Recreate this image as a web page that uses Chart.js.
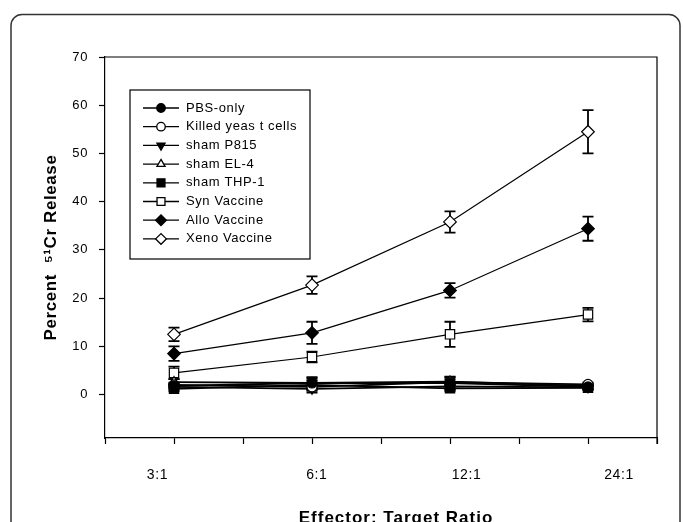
<!DOCTYPE html>
<html>
<head>
<meta charset="utf-8">
<script src="https://cdn.jsdelivr.net/npm/chart.js@4.4.1/dist/chart.umd.min.js"></script>
<style>
  html, body { margin: 0; padding: 0; background: #fff; overflow: hidden; }
  #wrap { width: 683px; height: 540px; }
</style>
</head>
<body>
<div id="wrap"><canvas id="myChart" width="683" height="540"></canvas></div>
<script>
// E:T ratios, where the points sit on the x scale, and where SigmaPlot put the labels
const ratioLabels = ['3:1', '6:1', '12:1', '24:1'];
const pointX = [1, 3, 5, 7];
const labelX = [0.76, 3.07, 5.24, 7.45];
const yTicks = [0, 10, 20, 30, 40, 50, 60, 70];

const seriesNames = ['PBS-only', 'Killed yeas t cells', 'sham P815', 'sham EL-4', 'sham THP-1', 'Syn Vaccine', 'Allo Vaccine', 'Xeno Vaccine'];

const pbsOnly = [1.8, 2.4, 2.4, 1.6];
const pbsOnlyErr = [0.5, 1.2, 1.2, 0.5];
const killedYeast = [2.0, 1.6, 2.6, 2.1];
const killedYeastErr = [0.5, 0.8, 0.6, 0.4];
const shamP815 = [1.6, 1.2, 1.7, 1.5];
const shamP815Err = [0.4, 0.8, 0.6, 0.4];
const shamEL4 = [2.6, 2.4, 2.7, 1.8];
const shamEL4Err = [0.6, 1.0, 1.0, 0.4];
const shamTHP1 = [1.2, 2.0, 1.3, 1.4];
const shamTHP1Err = [0.4, 1.0, 0.5, 0.4];
const synVaccine = [4.5, 7.8, 12.5, 16.6];
const synVaccineErr = [1.3, 1.1, 2.6, 1.4];
const alloVaccine = [8.5, 12.8, 21.6, 34.4];
const alloVaccineErr = [1.5, 2.3, 1.5, 2.5];
const xenoVaccine = [12.5, 22.7, 35.8, 54.5];
const xenoVaccineErr = [1.4, 1.8, 2.2, 4.5];

const FONT = '"Liberation Sans", Arial, sans-serif';

function makeSet(i, vals, errs, style, filled, rotation, radius, width) {
  return {
    label: seriesNames[i],
    data: vals.map((v, j) => ({x: pointX[j], y: v})),
    errors: errs,
    borderColor: '#000',
    borderWidth: width,
    backgroundColor: filled ? '#000' : '#fff',
    pointStyle: style,
    pointRotation: rotation,
    pointRadius: radius,
    pointBorderWidth: 1.2,
    pointBorderColor: '#000',
    pointBackgroundColor: filled ? '#000' : '#fff',
    tension: 0
  };
}

const datasets = [
  makeSet(0, pbsOnly, pbsOnlyErr, 'circle', true, 0, 5, 1.8),
  makeSet(1, killedYeast, killedYeastErr, 'circle', false, 0, 5, 1.8),
  makeSet(2, shamP815, shamP815Err, 'triangle', true, 180, 5.5, 1.8),
  makeSet(3, shamEL4, shamEL4Err, 'triangle', false, 0, 5.5, 1.8),
  makeSet(4, shamTHP1, shamTHP1Err, 'rect', true, 0, 6.6, 1.8),
  makeSet(5, synVaccine, synVaccineErr, 'rect', false, 0, 6.6, 1.2),
  makeSet(6, alloVaccine, alloVaccineErr, 'rectRot', true, 0, 6.3, 1.2),
  makeSet(7, xenoVaccine, xenoVaccineErr, 'rectRot', false, 0, 6.3, 1.2)
];

// the original text is rendered a bit spread out
const spacing = {
  id: 'spacing',
  beforeUpdate(chart) { chart.ctx.letterSpacing = '0.6px'; },
  beforeDraw(chart) { chart.ctx.letterSpacing = '0.6px'; }
};

const frame = {
  id: 'frame',
  beforeDraw(chart) {
    const ctx = chart.ctx;
    ctx.save();
    ctx.strokeStyle = '#333';
    ctx.lineWidth = 1.5;
    ctx.beginPath();
    ctx.roundRect(11, 14.5, 669, 560, 11);
    ctx.stroke();
    ctx.restore();
  },
  afterDraw(chart) {
    const {ctx, chartArea: a} = chart;
    ctx.save();
    ctx.strokeStyle = '#000';
    ctx.lineWidth = 1.2;
    ctx.beginPath();
    ctx.moveTo(a.left, a.top);
    ctx.lineTo(a.right, a.top);
    ctx.lineTo(a.right, a.bottom + 6);
    ctx.stroke();
    // x axis title
    ctx.fillStyle = '#000';
    ctx.letterSpacing = '1px';
    ctx.font = 'bold 17px ' + FONT;
    ctx.textAlign = 'center';
    ctx.textBaseline = 'middle';
    ctx.fillText('Effector: Target Ratio', 396, 518);
    ctx.restore();
  }
};

const errorBars = {
  id: 'errorBars',
  beforeDatasetsDraw(chart) {
    const {ctx, scales: {x, y}} = chart;
    ctx.save();
    ctx.strokeStyle = '#000';
    ctx.lineWidth = 1.8;
    chart.data.datasets.forEach(ds => {
      ds.errors.forEach((e, j) => {
        const px = x.getPixelForValue(ds.data[j].x);
        const top = y.getPixelForValue(ds.data[j].y + e);
        const bot = y.getPixelForValue(ds.data[j].y - e);
        ctx.beginPath();
        ctx.moveTo(px, top); ctx.lineTo(px, bot);
        ctx.moveTo(px - 5.5, top); ctx.lineTo(px + 5.5, top);
        ctx.moveTo(px - 5.5, bot); ctx.lineTo(px + 5.5, bot);
        ctx.stroke();
      });
    });
    ctx.restore();
  }
};

const boxLegend = {
  id: 'boxLegend',
  afterDraw(chart) {
    const ctx = chart.ctx;
    ctx.save();
    ctx.fillStyle = '#fff';
    ctx.fillRect(130, 90, 180, 169);
    ctx.strokeStyle = '#000';
    ctx.lineWidth = 1.2;
    ctx.strokeRect(130, 90, 180, 169);
    chart.data.datasets.forEach((ds, i) => {
      const yy = 108 + i * 18.7;
      ctx.strokeStyle = '#000';
      ctx.lineWidth = 1.3;
      ctx.beginPath();
      ctx.moveTo(143, yy);
      ctx.lineTo(179, yy);
      ctx.stroke();
      ctx.fillStyle = ds.pointBackgroundColor;
      Chart.helpers.drawPoint(ctx, {
        pointStyle: ds.pointStyle,
        rotation: ds.pointRotation,
        radius: ds.pointRadius * 0.85,
        borderWidth: 1.2
      }, 161, yy);
      ctx.fillStyle = '#000';
      ctx.font = '13px ' + FONT;
      ctx.textAlign = 'left';
      ctx.textBaseline = 'middle';
      ctx.fillText(ds.label, 186, yy);
    });
    ctx.restore();
  }
};

const config = {
  type: 'line',
  data: {datasets: datasets},
  options: {
    responsive: false,
    animation: false,
    layout: {padding: {top: 57, right: 26, left: 0, bottom: 0}},
    scales: {
      x: {
        type: 'linear',
        position: 'bottom',
        weight: 0,
        min: 0,
        max: 8,
        afterBuildTicks: s => { s.ticks = [0, 1, 2, 3, 4, 5, 6, 7, 8].map(v => ({value: v})); },
        afterFit: s => { s.height = 8; },
        ticks: {display: false},
        grid: {drawOnChartArea: false, tickLength: 6, color: '#000', tickWidth: 1.2},
        border: {color: '#000', width: 1.2}
      },
      x2: {
        type: 'linear',
        position: 'bottom',
        weight: 1,
        min: 0,
        max: 8,
        afterBuildTicks: s => { s.ticks = labelX.map(v => ({value: v})); },
        afterFit: s => { s.height = 94; },
        ticks: {
          padding: 21,
          maxRotation: 0,
          autoSkip: false,
          color: '#000',
          font: {family: FONT, size: 14},
          callback: (v, i) => ratioLabels[i]
        },
        grid: {display: false, drawTicks: false},
        border: {display: false}
      },
      y: {
        type: 'linear',
        min: -9,
        max: 70,
        afterBuildTicks: s => { s.ticks = yTicks.map(v => ({value: v})); },
        afterFit: s => { s.width = 105; },
        ticks: {
          padding: 11,
          color: '#000',
          font: {family: FONT, size: 13}
        },
        grid: {drawOnChartArea: false, tickLength: 6, color: '#000', tickWidth: 1.2},
        border: {color: '#000', width: 1.2},
        title: {
          display: true,
          text: 'Percent  \u2075\u00b9Cr Release',
          color: '#000',
          font: {family: FONT, size: 17, weight: 'bold'},
          padding: {top: 41, bottom: 0}
        }
      }
    },
    plugins: {
      legend: {display: false},
      tooltip: {enabled: false}
    }
  },
  plugins: [spacing, frame, errorBars, boxLegend]
};

const myChart = new Chart(document.getElementById('myChart'), config);
</script>
</body>
</html>
